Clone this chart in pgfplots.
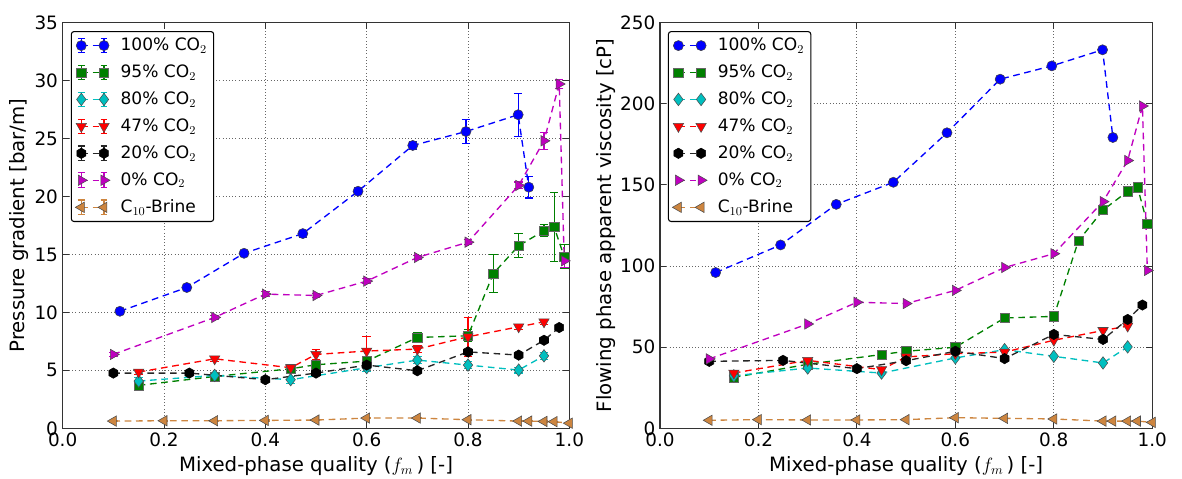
\documentclass[border=0pt]{standalone}
\usepackage{fontspec}
\setmainfont{DejaVu Sans}
\usepackage{pgfplots}
\pgfplotsset{compat=1.18}

\definecolor{mpBlue}{rgb}{0,0,1}
\definecolor{mpGreen}{rgb}{0,0.5,0}
\definecolor{mpCyan}{rgb}{0,0.75,0.75}
\definecolor{mpRed}{rgb}{1,0,0}
\definecolor{mpMag}{rgb}{0.75,0,0.75}
\definecolor{mpBrown}{RGB}{205,133,63}

% pointy-top hexagon, like matplotlib's 'h'
\pgfdeclareplotmark{hexagon*}{%
  \pgfpathmoveto{\pgfqpointpolar{90}{\pgfplotmarksize}}%
  \pgfpathlineto{\pgfqpointpolar{150}{\pgfplotmarksize}}%
  \pgfpathlineto{\pgfqpointpolar{210}{\pgfplotmarksize}}%
  \pgfpathlineto{\pgfqpointpolar{270}{\pgfplotmarksize}}%
  \pgfpathlineto{\pgfqpointpolar{330}{\pgfplotmarksize}}%
  \pgfpathlineto{\pgfqpointpolar{30}{\pgfplotmarksize}}%
  \pgfpathclose\pgfusepathqfillstroke}

\pgfplotsset{
  mpl/.style={
    scale only axis, height=304.4pt,
    xmin=0, xmax=1, xtick={0,0.2,0.4,0.6,0.8,1.0},
    xticklabels={0.0,0.2,0.4,0.6,0.8,1.0},
    /pgf/number format/assume math mode=true,
    grid=major, grid style={dotted, black!60, line width=0.7pt},
    axis line style={black!80, line width=1.1pt},
    tick style={black!80, line width=0.7pt}, major tick length=4.5pt,
    tick align=inside,
    tick label style={font=\fontsize{13.8}{16}\selectfont},
    label style={font=\fontsize{14.8}{17}\selectfont},
    xlabel={Mixed-phase quality ($f_m\,$) [-]},
    xlabel style={at={(axis description cs:0.5,-0.1068)}, anchor=base},
    legend cell align=left,
    legend style={at={(0.016,0.979)}, anchor=north west, draw=black, line width=0.8pt,
      rounded corners=2pt, font=\fontsize{12.8}{15}\selectfont, row sep=5.2pt,
      inner xsep=3pt, inner ysep=3pt,
      /tikz/every odd column/.append style={column sep=6pt}},
    every axis plot/.append style={line width=1pt, dash pattern=on 5pt off 3.5pt},
  },
  s100/.style={color=mpBlue, mark=*, mark size=3.8pt, mark options={solid, fill=mpBlue, draw=black!75, line width=0.4pt}},
  s95/.style={color=mpGreen, mark=square*, mark size=3.5pt, mark options={solid, fill=mpGreen, draw=black!60, line width=0.4pt}},
  s80/.style={color=mpCyan, mark=diamond*, mark size=4.7pt, mark options={solid, fill=mpCyan, draw=black!70, line width=0.4pt}},
  s47/.style={color=mpRed, mark=triangle*, mark size=4.5pt, mark options={solid, rotate=180, fill=mpRed, draw=black!70, line width=0.4pt}},
  s20/.style={color=black!85, mark=hexagon*, mark size=3.9pt, mark options={solid, fill=black, draw=black, line width=0.4pt}},
  s0/.style={color=mpMag, mark=triangle*, mark size=4.5pt, mark options={solid, rotate=-90, fill=mpMag, draw=black!70, line width=0.4pt}},
  sC/.style={color=mpBrown, mark=triangle*, mark size=4.5pt, mark options={solid, rotate=90, fill=mpBrown, draw=black!70, line width=0.4pt}},
  eb/.style={error bars/.cd, y dir=both, y explicit,
    error bar style={solid, line width=0.8pt},
    error mark options={solid, line width=0.8pt, mark size=3.2pt, rotate=90}},
}

\begin{document}
\begin{tikzpicture}
% ---------------- left: pressure gradient ----------------
\begin{axis}[mpl, width=380pt,
    ymin=0, ymax=35, ytick={0,5,...,35},
    ylabel={Pressure gradient [bar/m]},
    ylabel style={at={(axis description cs:-0.0745,0.5)}, anchor=base},
    legend image code/.code={%
      \draw[#1,solid,line width=0.8pt] (0pt,-5.5pt)--(0pt,5.5pt) (-2.6pt,5.5pt)--(2.6pt,5.5pt) (-2.6pt,-5.5pt)--(2.6pt,-5.5pt)
        (17pt,-5.5pt)--(17pt,5.5pt) (14.4pt,5.5pt)--(19.6pt,5.5pt) (14.4pt,-5.5pt)--(19.6pt,-5.5pt);
      \draw[mark repeat=1,#1] plot coordinates {(0pt,0pt) (17pt,0pt)};},
  ]
\addplot[s100, eb] table[x=x, y=y, y error=e] {
x y e
0.113 10.10 0.25
0.245 12.15 0.25
0.358 15.10 0.25
0.474 16.80 0.30
0.583 20.45 0.30
0.691 24.40 0.35
0.796 25.60 1.00
0.899 27.05 1.87
0.920 20.80 0.93
};
\addplot[s95, eb] table[x=x, y=y, y error=e] {
x y e
0.15 3.71 0.30
0.30 4.48 0.25
0.45 5.14 0.25
0.50 5.49 0.30
0.60 5.80 0.30
0.70 7.84 0.40
0.80 7.99 0.50
0.85 13.36 1.65
0.90 15.75 1.05
0.95 17.05 0.53
0.97 17.36 3.00
0.99 14.80 1.03
};
\addplot[s80, eb] table[x=x, y=y, y error=e] {
x y e
0.15 4.08 0.30
0.30 4.57 0.25
0.45 4.20 0.30
0.60 5.23 0.30
0.70 5.89 0.30
0.80 5.46 0.30
0.90 5.03 0.25
0.95 6.26 0.30
};
\addplot[s47, eb] table[x=x, y=y, y error=e] {
x y e
0.15 4.86 0.20
0.30 6.00 0.20
0.45 5.23 0.20
0.50 6.38 0.40
0.60 6.67 1.26
0.70 6.84 0.30
0.80 7.90 1.70
0.90 8.76 0.20
0.95 9.19 0.20
};
\addplot[s20, eb] table[x=x, y=y, y error=e] {
x y e
0.10 4.77 0.15
0.25 4.77 0.15
0.40 4.20 0.15
0.50 4.77 0.15
0.60 5.46 0.15
0.70 4.97 0.15
0.80 6.60 0.15
0.90 6.32 0.15
0.95 7.60 0.15
0.98 8.70 0.15
};
\addplot[s0, eb] table[x=x, y=y, y error=e] {
x y e
0.10 6.38 0.20
0.30 9.57 0.20
0.40 11.58 0.20
0.50 11.46 0.20
0.60 12.70 0.20
0.70 14.74 0.20
0.80 16.06 0.20
0.90 20.95 0.30
0.95 24.80 0.75
0.98 29.70 0.40
0.99 14.45 0.60
};
\addplot[sC, eb] table[x=x, y=y, y error=e] {
x y e
0.10 0.63 0.05
0.20 0.66 0.05
0.30 0.66 0.05
0.40 0.69 0.05
0.50 0.72 0.05
0.60 0.89 0.05
0.70 0.89 0.05
0.80 0.75 0.05
0.90 0.63 0.05
0.92 0.63 0.05
0.95 0.60 0.05
0.97 0.58 0.05
1.00 0.45 0.05
};
\legend{100\% CO$_2$, 95\% CO$_2$, 80\% CO$_2$, 47\% CO$_2$, 20\% CO$_2$, 0\% CO$_2$, C$_{10}$-Brine}
\end{axis}

% ---------------- right: apparent viscosity ----------------
\begin{axis}[mpl, width=369.2pt, at={(448pt,0pt)},
    ymin=0, ymax=250, ytick={0,50,...,250},
    ylabel={Flowing phase apparent viscosity [cP]},
    ylabel style={at={(axis description cs:-0.098,0.5)}, anchor=base},
    legend image code/.code={%
      \draw[mark repeat=1,#1] plot coordinates {(0pt,0pt) (17pt,0pt)};},
  ]
\addplot[s100] table {
0.113 96.0
0.245 113.0
0.358 138.0
0.474 151.6
0.583 182.1
0.691 215.1
0.796 223.3
0.899 233.2
0.920 179.2
};
\addplot[s95] table {
0.15 31.4
0.30 39.5
0.45 45.5
0.50 47.5
0.60 50.0
0.70 68.0
0.80 69.0
0.85 115.5
0.90 134.5
0.95 146.0
0.97 148.6
0.99 126.0
};
\addplot[s80] table {
0.15 32.4
0.30 37.2
0.45 34.1
0.60 43.4
0.70 48.5
0.80 44.4
0.90 40.3
0.95 50.2
};
\addplot[s47] table {
0.15 34.1
0.30 41.9
0.45 36.2
0.50 44.0
0.60 46.0
0.70 47.0
0.80 54.3
0.90 60.3
0.95 63.0
};
\addplot[s20] table {
0.10 41.3
0.25 41.9
0.40 36.8
0.50 41.7
0.60 47.5
0.70 43.0
0.80 57.9
0.90 54.8
0.95 67.1
0.98 76.0
};
\addplot[s0] table {
0.10 42.8
0.30 64.3
0.40 77.7
0.50 76.9
0.60 85.0
0.70 99.1
0.80 107.6
0.90 139.7
0.95 165.0
0.98 198.6
0.99 97.3
};
\addplot[sC] table {
0.10 5.0
0.20 5.4
0.30 5.2
0.40 5.2
0.50 5.4
0.60 6.6
0.70 6.2
0.80 5.8
0.90 4.5
0.92 4.5
0.95 4.5
0.97 4.5
1.00 3.7
};
\legend{100\% CO$_2$, 95\% CO$_2$, 80\% CO$_2$, 47\% CO$_2$, 20\% CO$_2$, 0\% CO$_2$, C$_{10}$-Brine}
\end{axis}
\pgfresetboundingbox
\path[use as bounding box] (-47pt,-37.3pt) rectangle (839.5pt,321.3pt);
\end{tikzpicture}
\end{document}
